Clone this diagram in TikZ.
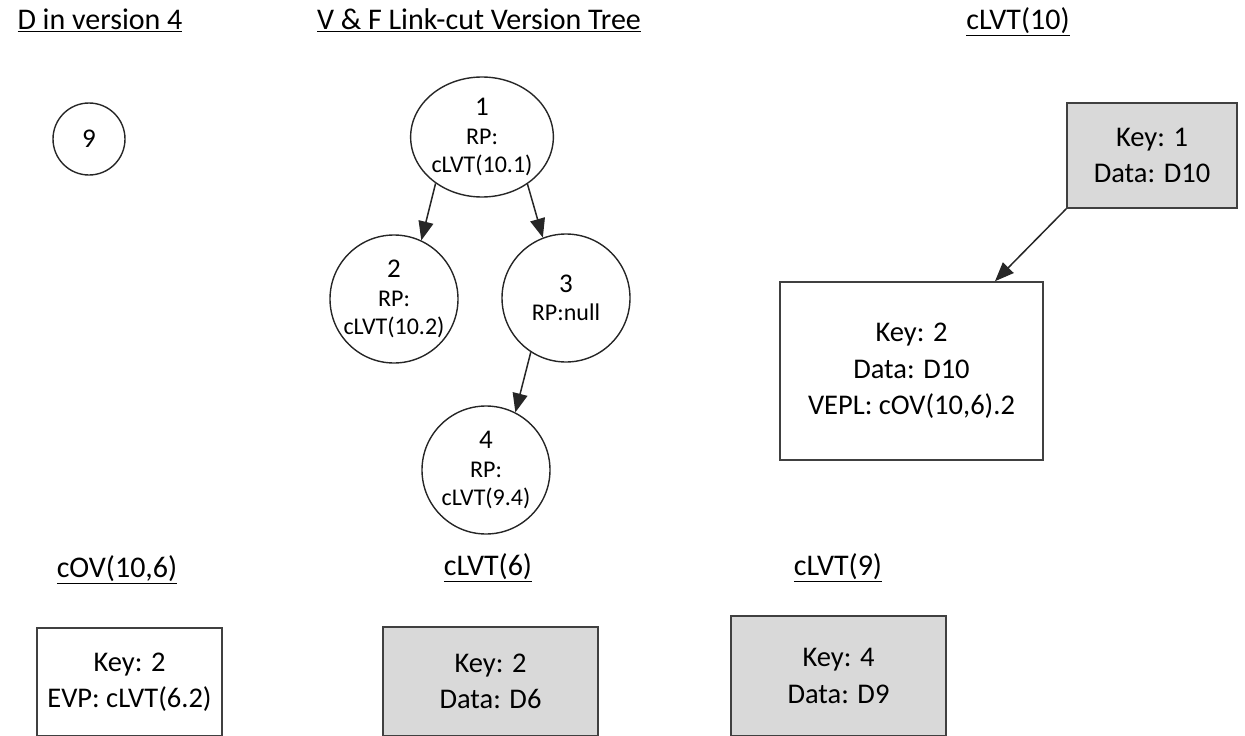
\documentclass[tikz,border=0pt]{standalone}
\usepackage{fontspec}
\setmainfont{Carlito}
\usetikzlibrary{arrows.meta,shapes.geometric}
\begin{document}
\begin{tikzpicture}[x=1pt,y=-1pt,
  ttl/.style={font=\fontsize{30}{36}\selectfont, inner sep=0pt},
  vnode/.style={circle, draw=black!85, line width=1.4pt, minimum size=128pt, inner sep=0pt, align=center, font=\fontsize{24}{28.5}\selectfont},
  box/.style={draw=black!75, line width=1.6pt, inner sep=0pt, align=center, font=\fontsize{28.5}{36.5}\selectfont},
  gbox/.style={box, fill=black!15},
  arr/.style={-{Triangle[length=19pt,width=15pt]}, line width=1.5pt, draw=black!85}
]
\useasboundingbox (0,0) rectangle (1245,736);
\clip (0,0) rectangle (1245,736);

% titles
\node[ttl] (t1) at (100,20) {\underline{D in version 4}};
\node[ttl] (t2) at (479,20) {\underline{V \& F Link-cut Version Tree}};
\node[ttl] (t3) at (1018,22) {\underline{cLVT(10)}};
\node[ttl] (t4) at (117,570) {\underline{cOV(10,6)}};
\node[ttl] (t5) at (488,568) {\underline{cLVT(6)}};
\node[ttl] (t6) at (838,568) {\underline{cLVT(9)}};

% D in version 4
\node[vnode, minimum size=72pt, font=\fontsize{27}{30}\selectfont] (d9) at (89,139) {9};

% version tree
\node[vnode, ellipse, minimum width=129pt, minimum height=120pt] (n1) at (482,137) {{\fontsize{27}{30}\selectfont 1}\\ RP:\\ cLVT(10.1)};
\node[vnode] (n2) at (394,299) {{\fontsize{27}{30}\selectfont 2}\\ RP:\\ cLVT(10.2)};
\node[vnode] (n3) at (566,298) {{\fontsize{27}{30}\selectfont 3}\\ RP:null};
\node[vnode] (n4) at (486,470) {{\fontsize{27}{30}\selectfont 4}\\ RP:\\ cLVT(9.4)};

\draw[arr] (n1.225) -- (n2.65);
\draw[arr] (n1.314) -- (n3.111);
\draw[arr] (n3.237) -- (n4.63);

% cLVT(10)
\node[gbox, minimum width=170pt, minimum height=105pt] (k1) at (1152,155.5) {Key: 1\\Data: D10};
\node[box, minimum width=263pt, minimum height=178pt] (k2) at (911.5,371) {Key: 2\\Data: D10\\VEPL: cOV(10,6).2};
\draw[arr] (k1.south west) -- ([xshift=83.5pt]k2.north);

% bottom row
\node[box, minimum width=185pt, minimum height=108pt] (b1) at (129.5,682) {Key: 2\\EVP: cLVT(6.2)};
\node[gbox, minimum width=215pt, minimum height=109pt] (b2) at (490.5,681.5) {Key: 2\\Data: D6};
\node[gbox, minimum width=215pt, minimum height=120pt] (b3) at (838.5,676) {Key: 4\\Data: D9};
\end{tikzpicture}
\end{document}
